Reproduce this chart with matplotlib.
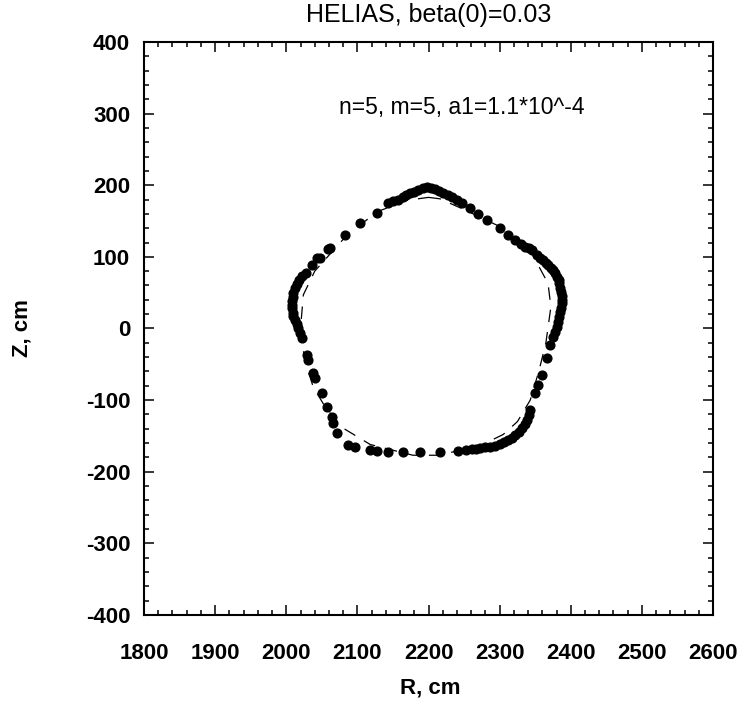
"""HELIAS flux surface cross-section, beta(0)=0.03."""

import matplotlib
matplotlib.use("Agg")
import matplotlib.pyplot as plt
from matplotlib.ticker import MultipleLocator

# Field line puncture points (R, Z in cm)
dots_r = [
    2198, 2203, 2209, 2215, 2220, 2227, 2233, 2240, 2247, 2258, 2270, 2282,
    2301, 2312, 2322, 2330, 2336, 2341, 2346, 2352, 2357, 2361, 2365, 2368,
    2372, 2375, 2378, 2381, 2383, 2384, 2385, 2386, 2387, 2388, 2387, 2386,
    2385, 2384, 2382, 2381, 2378, 2375, 2371, 2367, 2360, 2354, 2350, 2343,
    2341, 2339, 2336, 2332, 2327, 2322, 2317, 2312, 2306, 2301, 2294, 2287,
    2280, 2273, 2267, 2261, 2252, 2242, 2216, 2188, 2164, 2143, 2128, 2118,
    2097, 2087, 2071, 2066, 2064, 2057, 2050, 2040, 2038, 2031, 2029, 2022,
    2019, 2017, 2015, 2012, 2010, 2009, 2008, 2008, 2008, 2009, 2010, 2012,
    2015, 2018, 2022, 2028, 2036, 2043, 2048, 2059, 2062, 2083, 2104, 2128,
    2143, 2150, 2157, 2164, 2169, 2174, 2180, 2185, 2192,
]
dots_z = [
    197, 196, 195, 192, 189, 186, 183, 179, 175, 168, 160, 151,
    140, 131, 123, 118, 114, 112, 110, 102, 99, 95, 92, 88,
    85, 81, 77, 72, 68, 63, 57, 51, 46, 40, 35, 29,
    23, 16, 9, 2, -5, -12, -23, -41, -65, -79, -90, -114,
    -121, -128, -134, -139, -145, -149, -153, -156, -159, -162, -164, -165,
    -166, -167, -168, -168, -170, -171, -173, -173, -173, -173, -171, -170,
    -166, -163, -146, -132, -124, -110, -90, -69, -62, -44, -37, -13,
    -6, 1, 6, 12, 17, 22, 28, 33, 39, 44, 50, 56,
    62, 68, 73, 77, 89, 98, 98, 111, 112, 130, 147, 161,
    175, 178, 180, 184, 186, 189, 191, 193, 196,
]

# Dashed reference surface
surf_r = [
    2200, 2216, 2250, 2305, 2345, 2368, 2372, 2365, 2355, 2343, 2325, 2305,
    2270, 2212, 2178, 2118, 2078, 2055, 2038, 2026, 2020, 2024, 2040, 2085,
    2128, 2170, 2200,
]
surf_z = [
    183, 181, 166, 140, 105, 63, 30, -20, -60, -100, -130, -148,
    -165, -177, -177, -162, -138, -110, -82, -45, 0, 47, 80, 130,
    163, 179, 183,
]

title = "HELIAS, beta(0)=0.03"
note = "n=5, m=5, a1=1.1*10^-4"

plt.rcParams["font.family"] = ["Liberation Sans", "DejaVu Sans"]
plt.rcParams["axes.unicode_minus"] = False

fig = plt.figure(figsize=(7.49, 7.17), dpi=100)
ax = fig.add_axes([0.1923, 0.1423, 0.7597, 0.7992])

ax.plot(surf_r, surf_z, color="black", lw=0.9, dashes=(10, 8))
ax.plot(dots_r, dots_z, "o", color="black", ms=6.3, mec="black")

ax.set_xlim(1800, 2600)
ax.set_ylim(-400, 400)
ax.xaxis.set_major_locator(MultipleLocator(100))
ax.xaxis.set_minor_locator(MultipleLocator(20))
ax.yaxis.set_major_locator(MultipleLocator(100))
ax.yaxis.set_minor_locator(MultipleLocator(20))

ax.tick_params(which="both", direction="in", top=True, right=True,
               width=1.1, labelsize=16)
ax.tick_params(which="major", length=7)
ax.tick_params(which="minor", length=3.5)
ax.tick_params(axis="x", which="major", pad=20)
ax.tick_params(axis="y", which="major", pad=10)
for lbl in ax.get_xticklabels() + ax.get_yticklabels():
    lbl.set_fontweight("bold")
for sp in ax.spines.values():
    sp.set_linewidth(1.5)

ax.text(2246, 308, note, ha="center", va="center", fontsize=16.5)
fig.text(0.572, 0.979, title, ha="center", va="center", fontsize=18)
fig.text(0.574, 0.040, "R, cm", ha="center", va="center", fontsize=16,
         fontweight="bold")
fig.text(0.030, 0.542, "Z, cm", ha="center", va="center", fontsize=16,
         fontweight="bold", rotation=90)

fig.savefig("out.png", dpi=100)
